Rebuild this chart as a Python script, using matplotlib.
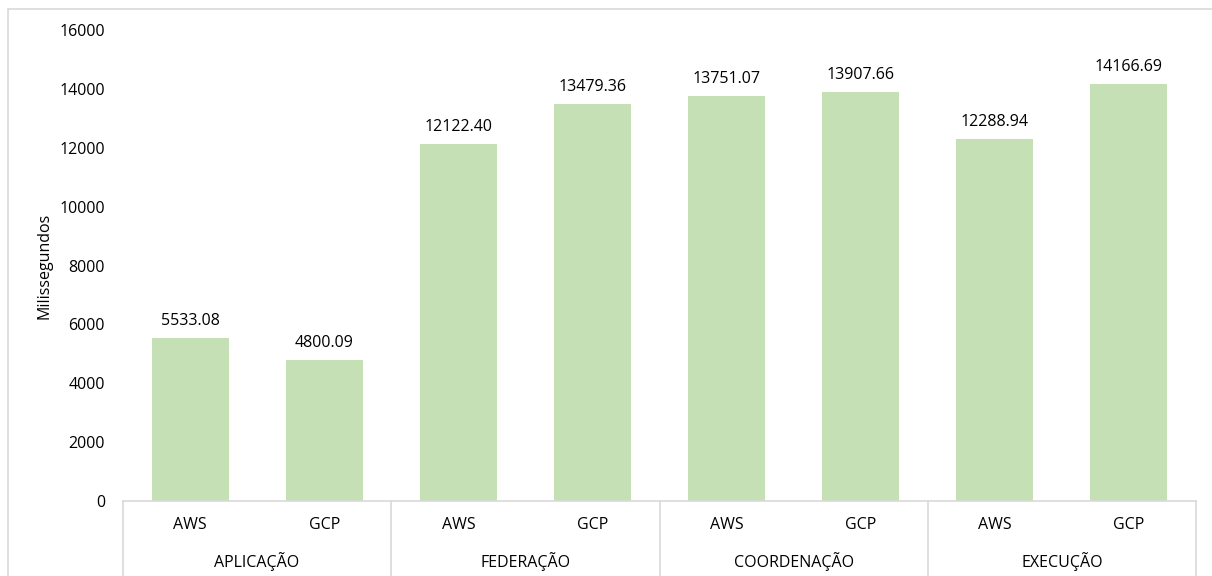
import matplotlib.pyplot as plt
from matplotlib.patches import Rectangle

plt.rcParams['font.family'] = ['Open Sans', 'DejaVu Sans']

groups = ['APLICAÇÃO', 'FEDERAÇÃO', 'COORDENAÇÃO', 'EXECUÇÃO']
providers = ['AWS', 'GCP']
values = [5533.08, 4800.09, 12122.40, 13479.36, 13751.07, 13907.66, 12288.94, 14166.69]

bar_color = '#C5E0B4'
axis_color = '#D9D9D9'
fs = 11.5

fig = plt.figure(figsize=(12.12, 5.76), dpi=100)
ax = fig.add_axes([123 / 1212, 75 / 576, 1073 / 1212, 471 / 576])

# outer chart frame
fig.patches.append(Rectangle((8 / 1212, -0.1), 1.2, (576 - 9) / 576 + 0.1,
                             transform=fig.transFigure, fill=False,
                             edgecolor=axis_color, linewidth=1.2))

x = list(range(len(values)))
ax.bar(x, values, width=0.575, color=bar_color)

for xi, v in zip(x, values):
    ax.text(xi, v + 300, f'{v:.2f}', ha='center', va='bottom', fontsize=fs)

ax.set_xlim(-0.5, len(values) - 0.5)
ax.set_ylim(0, 16000)
ax.set_yticks(range(0, 16001, 2000))
ax.tick_params(axis='y', length=0, labelsize=fs, pad=13)
ax.set_xticks([])
ax.set_ylabel('Milissegundos', fontsize=fs, labelpad=5)

for s in ['top', 'right', 'left']:
    ax.spines[s].set_visible(False)
ax.spines['bottom'].set_color(axis_color)
ax.spines['bottom'].set_linewidth(1.2)

trans = ax.get_xaxis_transform()
for i, xi in enumerate(x):
    ax.text(xi, -0.051, providers[i % 2], transform=trans, ha='center', va='center', fontsize=fs)
for g, name in enumerate(groups):
    ax.text(2 * g + 0.5, -0.1295, name, transform=trans, ha='center', va='center', fontsize=fs)
for b in range(len(groups) + 1):
    ax.plot([2 * b - 0.5, 2 * b - 0.5], [0, -0.2], transform=trans, color=axis_color,
            linewidth=1.2, clip_on=False)

fig.savefig('out.png', dpi=100)
